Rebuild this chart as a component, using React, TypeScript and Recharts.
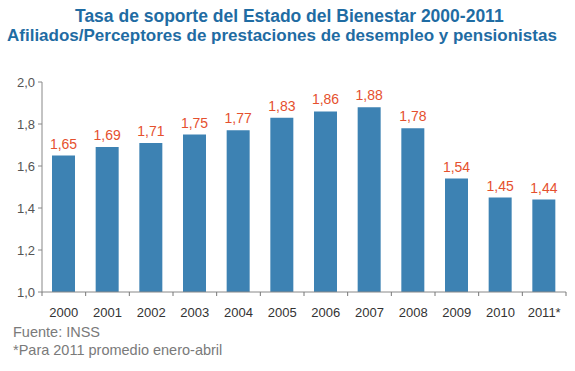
import { BarChart, Bar, XAxis, YAxis, LabelList } from "recharts";

// Datos de la tasa de soporte (afiliados / perceptores)
const years = ["2000", "2001", "2002", "2003", "2004", "2005", "2006", "2007", "2008", "2009", "2010", "2011*"];
const ratios = [1.65, 1.69, 1.71, 1.75, 1.77, 1.83, 1.86, 1.88, 1.78, 1.54, 1.45, 1.44];
const yTicks = [1.0, 1.2, 1.4, 1.6, 1.8, 2.0];

const chartData = years.map((year, i) => ({ year, value: ratios[i] }));

const FONT = "'Liberation Sans', Arial, Helvetica, sans-serif";
const PLOT_LEFT = 42;
const PLOT_RIGHT = 566;
const PLOT_BOTTOM = 292;
const BAND = (PLOT_RIGHT - PLOT_LEFT) / years.length;

const fmt = (v: number, d: number) => v.toFixed(d).replace(".", ",");

// Tick del eje X con marcas entre categorías (estilo Excel)
const YearTick = ({ x, payload, index }: any) => (
  <g>
    <line x1={x + BAND / 2} x2={x + BAND / 2} y1={PLOT_BOTTOM} y2={PLOT_BOTTOM + 4} stroke="#777" />
    {index === 0 && <line x1={x - BAND / 2} x2={x - BAND / 2} y1={PLOT_BOTTOM} y2={PLOT_BOTTOM + 4} stroke="#777" />}
    <text x={x} y={PLOT_BOTTOM + 25} textAnchor="middle" fill="#333" fontSize={13} fontFamily={FONT}>
      {payload.value}
    </text>
  </g>
);

export default function App() {
  return (
    <div style={{ position: "absolute", left: 0, top: 0, width: 575, height: 371, background: "#fff", fontFamily: FONT }}>
      <div style={{ position: "absolute", top: 6, left: 75, whiteSpace: "nowrap", color: "#1f6ca3", fontSize: 17.5, fontWeight: 700, lineHeight: "20px" }}>
        Tasa de soporte del Estado del Bienestar 2000-2011
      </div>
      <div style={{ position: "absolute", top: 26, left: 7, whiteSpace: "nowrap", color: "#1f6ca3", fontSize: 17, fontWeight: 700, lineHeight: "20px" }}>
        Afiliados/Perceptores de prestaciones de desempleo y pensionistas
      </div>
      <BarChart
        width={575}
        height={371}
        data={chartData}
        margin={{ top: 82, right: 575 - PLOT_RIGHT, bottom: 49, left: 0 }}
        style={{ position: "absolute", left: 0, top: 0 }}
      >
        <XAxis
          dataKey="year"
          height={30}
          stroke="#888"
          tickLine={false}
          tick={<YearTick />}
          interval={0}
        />
        <YAxis
          width={PLOT_LEFT}
          domain={[1, 2]}
          ticks={yTicks}
          tickFormatter={(v: number) => fmt(v, 1)}
          stroke="#888"
          tickSize={4}
          tickMargin={3}
          tick={{ fill: "#555", fontSize: 13, fontFamily: FONT }}
          allowDataOverflow
        />
        <Bar dataKey="value" fill="#3d82b3" barSize={23} isAnimationActive={false}>
          <LabelList
            dataKey="value"
            position="top"
            offset={7}
            formatter={(v: any) => fmt(Number(v), 2)}
            style={{ fill: "#e5502e", fontSize: 14, fontFamily: FONT }}
          />
        </Bar>
      </BarChart>
      <div style={{ position: "absolute", left: 13, top: 323, color: "#7a7a7a", fontSize: 14.5, lineHeight: "18px" }}>
        <div>Fuente: INSS</div>
        <div>*Para 2011 promedio enero-abril</div>
      </div>
    </div>
  );
}
